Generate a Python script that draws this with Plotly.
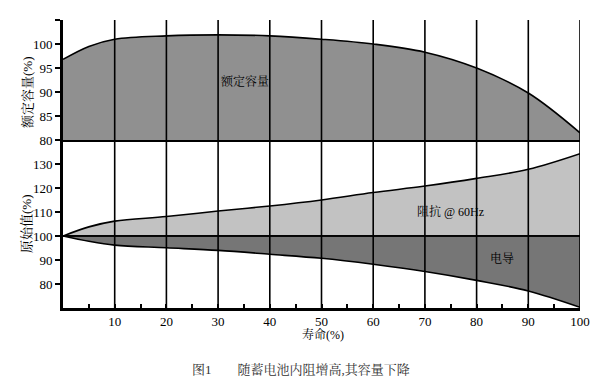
import plotly.graph_objects as go

life = [0, 5, 10, 20, 30, 40, 50, 60, 70, 80, 90, 100]
capacity = [96.8, 99.5, 101.0, 101.7, 101.9, 101.7, 101.0, 100.0, 98.3, 95.0, 89.8, 81.5]
impedance = [100, 103.8, 106.2, 108.1, 110.4, 112.5, 115.0, 118.1, 120.8, 124.0, 127.8, 134.3]
conductance = [100, 97.8, 96.2, 95.1, 94.0, 92.4, 90.7, 88.2, 85.2, 81.5, 77.1, 70.3]
baseline = [100] * len(life)

x_ticks = [10, 20, 30, 40, 50, 60, 70, 80, 90, 100]
cap_ticks = [80, 85, 90, 95, 100, 105]
cap_ticktext = ["80", "85", "90", "95", "100", ""]
orig_ticks = [80, 90, 100, 110, 120, 130]

FONT = "Liberation Serif, Noto Serif CJK SC, Noto Sans CJK SC"
split = 168 / 288

fig = go.Figure()
fig.add_trace(go.Scatter(x=life, y=capacity, xaxis="x2", yaxis="y2", mode="lines",
                         line=dict(color="black", width=1.6, shape="spline"),
                         fill="tozeroy", fillcolor="#909090", showlegend=False))
fig.add_trace(go.Scatter(x=life, y=baseline, mode="lines", line=dict(color="black", width=1.5),
                         showlegend=False))
fig.add_trace(go.Scatter(x=life, y=impedance, mode="lines",
                         line=dict(color="black", width=1.6, shape="spline"),
                         fill="tonexty", fillcolor="#c2c2c2", showlegend=False))
fig.add_trace(go.Scatter(x=life, y=baseline, mode="lines", line=dict(color="black", width=1.5),
                         showlegend=False))
fig.add_trace(go.Scatter(x=life, y=conductance, mode="lines",
                         line=dict(color="black", width=1.6, shape="spline"),
                         fill="tonexty", fillcolor="#767676", showlegend=False))
fig.add_trace(go.Scatter(x=life, y=baseline, mode="lines", line=dict(color="black", width=1.5),
                         showlegend=False))

for xv in x_ticks:
    fig.add_shape(type="line", xref="x", yref="paper", x0=xv, x1=xv, y0=0, y1=1,
                  line=dict(color="black", width=1.6))

tickfont = dict(family=FONT, size=13, color="black")
fig.update_layout(
    width=590, height=380,
    margin=dict(l=55, r=18, t=12, b=80),
    paper_bgcolor="white", plot_bgcolor="white",
    font=dict(family=FONT, color="black"),
    xaxis=dict(domain=[0, 1], anchor="y", range=[0, 100], showgrid=False, zeroline=False,
               automargin=False,
               showline=True, linecolor="black", linewidth=3,
               tickvals=x_ticks, ticks="inside", ticklen=4, tickwidth=1.5, tickcolor="black",
               tickfont=tickfont, ticklabelstandoff=-1,
               minor=dict(ticks="inside", dtick=5, tick0=5, ticklen=4, tickwidth=2, tickcolor="black")),
    xaxis2=dict(domain=[0, 1], anchor="y2", range=[0, 100], matches="x", showgrid=False,
                zeroline=False, showline=True, linecolor="black", linewidth=1.8,
                automargin=False, showticklabels=False, ticks=""),
    yaxis=dict(domain=[0, split], anchor="x", range=[70, 140], showgrid=False, zeroline=False,
               automargin=False,
               showline=True, linecolor="black", linewidth=3,
               tickvals=orig_ticks, ticks="outside", ticklen=5, tickwidth=1.5, tickcolor="black",
               tickfont=tickfont),
    yaxis2=dict(domain=[split, 1], anchor="x2", range=[80, 105], showgrid=False, zeroline=False,
                automargin=False,
                showline=True, linecolor="black", linewidth=3,
                tickvals=cap_ticks, ticktext=cap_ticktext, ticks="outside", ticklen=5,
                tickwidth=1.5, tickcolor="black", tickfont=tickfont),
)

ann_font = dict(family=FONT, size=12, color="black")
fig.add_annotation(text="额定容量", x=35.2, y=92.1, xref="x2", yref="y2", showarrow=False, font=ann_font)
fig.add_annotation(text="阻抗 @ 60Hz", x=75.0, y=110.3, xref="x", yref="y", showarrow=False, font=ann_font)
fig.add_annotation(text="电导", x=84.9, y=90.7, xref="x", yref="y", showarrow=False, font=ann_font)

def px(xp):
    return (xp - 63) / 517

def py(yp):
    return (308 - yp) / 288

title_font = dict(family=FONT, size=13, color="black")
fig.add_annotation(text="额定容量(%)", x=px(27), y=py(92), xref="paper", yref="paper",
                   xanchor="center", yanchor="middle", textangle=-90, showarrow=False, font=title_font)
fig.add_annotation(text="原始值(%)", x=px(27), y=py(224), xref="paper", yref="paper",
                   xanchor="center", yanchor="middle", textangle=-90, showarrow=False, font=title_font)
fig.add_annotation(text="寿命(%)", x=px(323), y=py(334), xref="paper", yref="paper",
                   xanchor="center", yanchor="middle", showarrow=False,
                   font=dict(family=FONT, size=12, color="black"))
fig.add_annotation(text="图1　　随蓄电池内阻增高,其容量下降", x=px(301), y=py(369),
                   xref="paper", yref="paper", xanchor="center", yanchor="middle", showarrow=False,
                   font=dict(family=FONT, size=13, color="#333333"))

fig.write_html("out.html")
